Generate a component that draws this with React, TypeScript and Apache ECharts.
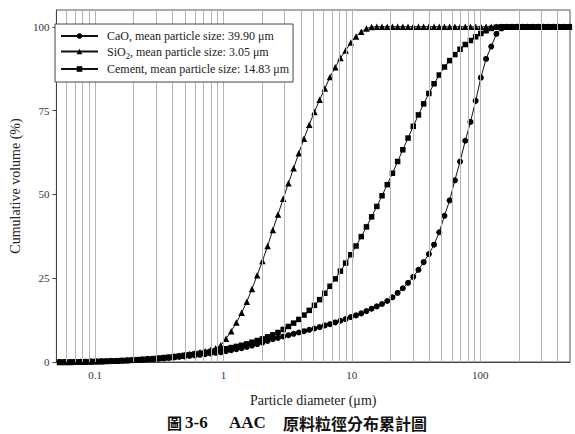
import React, { useEffect, useRef } from "react";
import * as echarts from "echarts";

// particle size channels (µm)
const sizes = [
  0.053, 0.058, 0.064, 0.070, 0.077, 0.084, 0.093, 0.102, 0.112, 0.122,
  0.134, 0.148, 0.162, 0.178, 0.195, 0.214, 0.235, 0.258, 0.284, 0.311,
  0.342, 0.375, 0.412, 0.452, 0.496, 0.545, 0.598, 0.657, 0.721, 0.791,
  0.869, 0.953, 1.047, 1.149, 1.261, 1.385, 1.520, 1.668, 1.832, 2.011,
  2.207, 2.423, 2.660, 2.920, 3.206, 3.519, 3.863, 4.241, 4.656, 5.111,
  5.611, 6.159, 6.761, 7.422, 8.148, 8.944, 9.819, 10.78, 11.83, 12.99,
  14.26, 15.65, 17.18, 18.86, 20.71, 22.73, 24.95, 27.39, 30.07, 33.01,
  36.24, 39.78, 43.67, 47.94, 52.62, 57.77, 63.41, 69.61, 76.42, 83.89,
  92.09, 101.1, 111.0, 121.8, 133.7, 146.8, 161.2, 176.9, 194.2, 213.2,
  234.1, 256.9, 282.1, 309.6, 339.9, 373.1, 409.6, 449.7, 493.6,
];

const caoValues = [
  0, 0, 0.02, 0.04, 0.06, 0.08, 0.11, 0.14, 0.18, 0.22,
  0.27, 0.32, 0.38, 0.45, 0.52, 0.6, 0.69, 0.78, 0.88, 0.99,
  1.1, 1.22, 1.35, 1.5, 1.65, 1.8, 1.97, 2.15, 2.35, 2.55,
  2.75, 2.9, 3.2, 3.5, 3.8, 4.1, 4.5, 4.9, 5.3, 5.8,
  6.3, 6.8, 7.2, 7.6, 8.0, 8.4, 8.8, 9.2, 9.6, 10.0,
  10.4, 10.9, 11.3, 11.8, 12.3, 12.8, 13.4, 13.9, 14.5, 15.2,
  15.9, 16.6, 17.3, 18.2, 19.3, 20.6, 22.0, 23.6, 25.4, 27.5,
  29.8, 32.2, 35.0, 38.7, 43.6, 48.2, 54.2, 59.8, 66.0, 71.6,
  77.9, 84.8, 90.4, 94.1, 97.9, 99.5, 100, 100, 100, 100,
  100, 100, 100, 100, 100, 100, 100, 100, 100,
];

const sio2Values = [
  0, 0, 0, 0.05, 0.1, 0.1, 0.15, 0.2, 0.25, 0.3,
  0.35, 0.4, 0.5, 0.55, 0.65, 0.75, 0.85, 0.95, 1.05, 1.2,
  1.35, 1.5, 1.7, 1.9, 2.1, 2.35, 2.6, 2.9, 3.2, 3.6,
  4.1, 5.0, 6.9, 9.2, 11.8, 14.7, 18.0, 21.8, 25.9, 30.1,
  34.6, 39.4, 44.0, 48.7, 53.3, 57.8, 62.3, 66.6, 70.8, 74.6,
  78.2, 81.6, 85.0, 87.9, 90.7, 92.9, 95.3, 97.1, 98.5, 99.5,
  99.9, 100, 100, 100, 100, 100, 100, 100, 100, 100,
  100, 100, 100, 100, 100, 100, 100, 100, 100, 100,
  100, 100, 100, 100, 100, 100, 100, 100, 100, 100,
  100, 100, 100, 100, 100, 100, 100, 100, 100,
];

const cementValues = [
  0, 0, 0.02, 0.05, 0.08, 0.1, 0.14, 0.18, 0.22, 0.27,
  0.32, 0.38, 0.45, 0.52, 0.6, 0.7, 0.8, 0.9, 1.0, 1.15,
  1.3, 1.45, 1.6, 1.8, 2.0, 2.2, 2.4, 2.6, 2.85, 3.1,
  3.35, 3.65, 3.95, 4.3, 4.65, 5.0, 5.4, 5.9, 6.4, 6.9,
  7.5, 8.1, 8.8, 9.7, 10.6, 11.6, 12.7, 14.0, 15.4, 16.9,
  18.6, 20.5, 22.6, 24.8, 27.1, 29.5, 32.0, 34.6, 37.4, 40.3,
  43.3, 46.4, 49.6, 52.9, 56.3, 59.8, 63.3, 66.8, 70.3, 73.7,
  77.0, 80.1, 83.0, 85.6, 88.0, 89.9, 91.7, 93.3, 94.7, 95.9,
  97.0, 98.0, 98.8, 99.5, 99.9, 100, 100, 100, 100, 100,
  100, 100, 100, 100, 100, 100, 100, 100, 100,
];

const xTickLabels = [0.1, 1, 10, 100];
const yTicks = [0, 25, 50, 75, 100];
const verticalGrid = [
  0.06, 0.07, 0.08, 0.09, 0.1, 0.2, 0.3, 0.4, 0.5, 0.6, 0.7, 0.8, 0.9,
  1, 2, 3, 4, 5, 6, 7, 8, 9, 10, 20, 30, 40, 50, 60, 70, 80, 90,
  100, 200, 300, 400,
];

const seriesNames = ["CaO", "SiO2", "Cement"];
const meanSizes = ["39.90", "3.05", "14.83"];

const SERIF = "'Liberation Serif', 'Times New Roman', serif";
const CJK = "'Noto Sans CJK TC', sans-serif";

export default function App() {
  const ref = useRef<HTMLDivElement>(null);

  useEffect(() => {
    document.body.style.margin = "0";
    const chart = echarts.init(ref.current!, undefined, { renderer: "svg" });
    const pair = (vals: number[]) => sizes.map((s, i) => [s, vals[i]]);

    const lineBase = {
      type: "line" as const,
      color: "#000",
      lineStyle: { color: "#111", width: 1 },
      itemStyle: { color: "#000" },
      z: 3,
      silent: true,
    };

    chart.setOption({
      animation: false,
      grid: {
        left: 43,
        right: 5,
        top: 10,
        bottom: 72,
        show: true,
        borderColor: "#555",
        borderWidth: 1,
      },
      legend: {
        data: seriesNames,
        orient: "vertical",
        left: 55,
        top: 24,
        z: 10,
        backgroundColor: "#fff",
        borderColor: "#444",
        borderWidth: 1,
        padding: [6, 4, 7, 5],
        itemGap: 3,
        itemWidth: 37,
        itemHeight: 7,
        selectedMode: false,
        formatter: (name: string) => {
          const i = seriesNames.indexOf(name);
          if (name === "SiO2") {
            return `{n|SiO}{sub|2}{n|, mean particle size: ${meanSizes[i]} μm}`;
          }
          return `{n|${name}, mean particle size: ${meanSizes[i]} μm}`;
        },
        textStyle: {
          fontFamily: SERIF,
          fontSize: 12,
          color: "#222",
          padding: [0, 0, 0, 4],
          rich: {
            n: { fontFamily: SERIF, fontSize: 12, color: "#222", lineHeight: 17 },
            sub: {
              fontFamily: SERIF,
              fontSize: 8.5,
              color: "#222",
              lineHeight: 17,
              verticalAlign: "bottom",
              padding: [6, 0, 0, 0],
            },
          },
        },
      },
      xAxis: {
        type: "log",
        logBase: 10,
        min: 0.05,
        max: 500,
        name: "Particle diameter (μm)",
        nameLocation: "middle",
        nameGap: 31,
        nameTextStyle: { fontFamily: SERIF, fontSize: 14, color: "#222" },
        axisLine: { onZero: false, lineStyle: { color: "#444", width: 1 } },
        axisTick: { show: false },
        splitLine: { show: false },
        axisLabel: {
          fontFamily: SERIF,
          fontSize: 11,
          color: "#333",
          margin: 7,
          showMinLabel: false,
          showMaxLabel: false,
          formatter: (v: number) => {
            const hit = xTickLabels.find((t) => Math.abs(t - v) / t < 1e-6);
            return hit === undefined ? "" : String(hit);
          },
        },
      },
      yAxis: {
        type: "value",
        min: 0,
        max: 105,
        interval: 25,
        name: "Cumulative volume (%)",
        nameLocation: "middle",
        nameGap: 33,
        nameTextStyle: { fontFamily: SERIF, fontSize: 14, color: "#222" },
        axisLine: { show: true, lineStyle: { color: "#444", width: 1 } },
        axisTick: {
          show: true,
          inside: false,
          length: 4,
          customValues: yTicks,
          lineStyle: { color: "#444" },
        },
        splitLine: { show: false },
        axisLabel: {
          fontFamily: SERIF,
          fontSize: 11,
          color: "#333",
          margin: 7,
          customValues: yTicks,
        },
      },
      series: [
        {
          name: "grid",
          type: "line",
          data: [],
          z: 1,
          silent: true,
          markLine: {
            silent: true,
            symbol: ["none", "none"],
            label: { show: false },
            lineStyle: { color: "#b4b4b4", width: 1, type: "solid" },
            emphasis: { disabled: true },
            data: verticalGrid.map((v) => ({ xAxis: v })),
          },
        },
        {
          ...lineBase,
          name: "CaO",
          symbol: "circle",
          symbolSize: 6,
          data: pair(caoValues),
        },
        {
          ...lineBase,
          name: "SiO2",
          symbol: "triangle",
          symbolSize: 6.5,
          data: pair(sio2Values),
        },
        {
          ...lineBase,
          name: "Cement",
          symbol: "rect",
          symbolSize: 5.5,
          data: pair(cementValues),
        },
      ],
      graphic: [
        {
          type: "text",
          left: 167,
          top: 415,
          style: {
            text: "圖",
            fontFamily: CJK,
            fontSize: 15,
            fontWeight: "bold",
            fill: "#111",
          },
        },
        {
          type: "text",
          left: 185,
          top: 414,
          style: {
            text: "3-6",
            fontFamily: SERIF,
            fontSize: 17,
            fontWeight: "bold",
            fill: "#111",
          },
        },
        {
          type: "text",
          left: 229,
          top: 414,
          style: {
            text: "AAC",
            fontFamily: SERIF,
            fontSize: 17,
            fontWeight: "bold",
            fill: "#111",
          },
        },
        {
          type: "text",
          left: 283,
          top: 415,
          style: {
            text: "原料粒徑分布累計圖",
            fontFamily: CJK,
            fontSize: 16,
            fontWeight: "bold",
            fill: "#111",
          },
        },
      ],
    });

    return () => chart.dispose();
  }, []);

  return <div ref={ref} style={{ width: 575, height: 434 }} />;
}
